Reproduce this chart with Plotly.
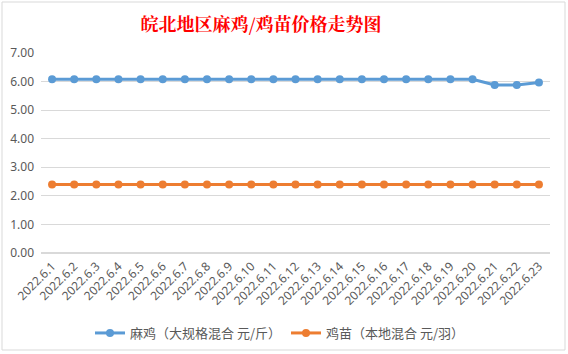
import plotly.graph_objects as go

dates = ["2022.6.1", "2022.6.2", "2022.6.3", "2022.6.4", "2022.6.5", "2022.6.6", "2022.6.7",
         "2022.6.8", "2022.6.9", "2022.6.10", "2022.6.11", "2022.6.12", "2022.6.13", "2022.6.14",
         "2022.6.15", "2022.6.16", "2022.6.17", "2022.6.18", "2022.6.19", "2022.6.20",
         "2022.6.21", "2022.6.22", "2022.6.23"]
maji = [6.08] * 20 + [5.88, 5.88, 5.97]
jimiao = [2.40] * 23
name_maji = "麻鸡（大规格混合 元/斤）"
name_jimiao = "鸡苗（本地混合 元/羽）"
y_ticks = [0, 1, 2, 3, 4, 5, 6, 7]

W, H = 568, 354
L, R, T, B = 41, 550, 53, 253

fig = go.Figure()
fig.add_trace(go.Scatter(x=dates, y=maji, mode="lines+markers", name=name_maji,
                         line=dict(color="#5b9bd5", width=3),
                         marker=dict(color="#5b9bd5", size=8)))
fig.add_trace(go.Scatter(x=dates, y=jimiao, mode="lines+markers", name=name_jimiao,
                         line=dict(color="#ed7d31", width=3),
                         marker=dict(color="#ed7d31", size=8)))

def px(x):
    return (x - L) / (R - L)

def py(y):
    return (B - y) / (B - T)

fig.update_layout(
    width=W, height=H,
    margin=dict(l=L, r=W - R, t=T, b=H - B),
    paper_bgcolor="white", plot_bgcolor="white",
    font=dict(family="Noto Sans CJK SC, Noto Sans, sans-serif", color="#595959"),
    title=dict(text="<b>皖北地区麻鸡/鸡苗价格走势图</b>", x=261 / W, xanchor="center",
               y=1 - 25 / H, yanchor="middle",
               font=dict(size=18, color="#ff0000", family="Noto Serif CJK SC, Noto Sans CJK SC")),
    xaxis=dict(type="category", range=[-0.5, len(dates) - 0.5], tickangle=-45,
               showgrid=False, showline=False, ticks="", ticklabelstandoff=3, automargin=False,
               tickfont=dict(size=12, color="#595959", family="Noto Sans, sans-serif")),
    yaxis=dict(range=[0, 7], tickvals=y_ticks, tickformat=".2f", showgrid=True,
               gridcolor="#d9d9d9", gridwidth=1, zeroline=True, zerolinecolor="#d9d9d9",
               showline=False, ticks="", automargin=False, tickfont=dict(size=12, color="#595959",
               family="Noto Sans, sans-serif"), ticklabelstandoff=6),
    legend=dict(orientation="h", xref="container", yref="container", x=280 / W, xanchor="center",
                y=1 - 333 / H, yanchor="middle", font=dict(size=13, color="#595959"),
                itemwidth=30, tracegroupgap=0),
    showlegend=True,
)

fig.add_shape(type="rect", xref="paper", yref="paper",
              x0=px(2), x1=px(565), y0=py(350), y1=py(2),
              line=dict(color="#d9d9d9", width=1), layer="below")

fig.write_html("out.html")
